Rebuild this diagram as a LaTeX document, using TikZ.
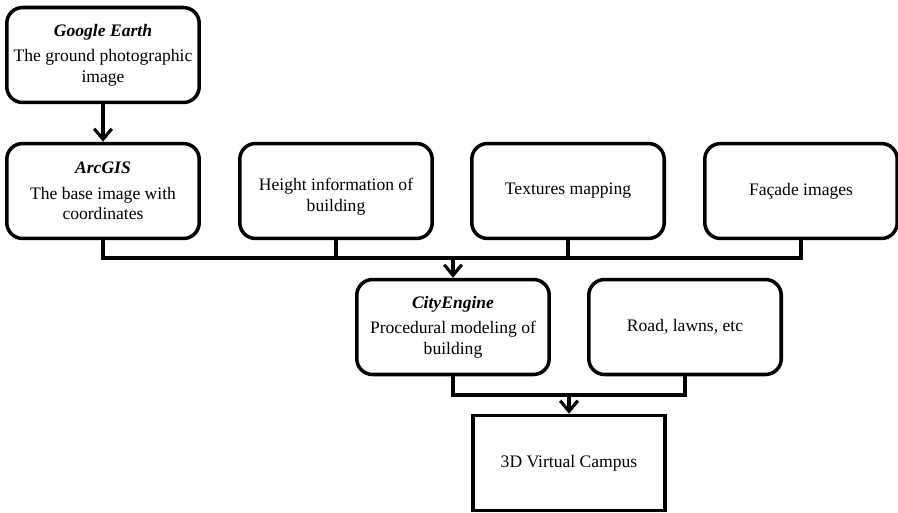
\documentclass[tikz,border=0pt]{standalone}
\usepackage{fontspec}
\setmainfont{Liberation Serif}
\usepackage{tikz}
\usetikzlibrary{arrows.meta}

\tikzset{
  stepbox/.style={draw, line width=2pt, rounded corners=9pt, align=center,
    minimum width=3.85cm, minimum height=1.9cm, font=\fontsize{10}{11.5}\selectfont},
  endbox/.style={stepbox, rounded corners=0pt},
  link/.style={line width=1.8pt},
  arr/.style={link, -{Straight Barb[length=6pt,width=10pt,line width=1.8pt]}}
}
\newcommand{\tool}[1]{\textbf{\textit{#1}}\\[3pt]}

\begin{document}
\begin{tikzpicture}[x=0.02cm, y=-0.02cm]
                    \useasboundingbox (0,0) rectangle (898,513);
                    % Sources
                    \node [stepbox] (earth) at (103,55) {\tool{Google Earth}The ground photographic\\image};
                    \node [stepbox] (arcgis) at (103,191) {\tool{ArcGIS}The base image with\\coordinates};
                    \node [stepbox] (height) at (336,191) {\mbox{}\\[2pt]Height information of\\building};
                    \node [stepbox] (texture) at (568,191) {Textures mapping};
                    \node [stepbox] (facade) at (801,191) {Façade images};
                    % Modeling
                    \node [stepbox] (city) at (453,327) {\tool{CityEngine}Procedural modeling of\\building};
                    \node [stepbox] (road) at (685,327) {Road, lawns, etc};
                    \node [endbox] (campus) at (569,463) {3D Virtual Campus};
                    % Bus lines
                    \coordinate (bus) at (0,258);
                    \coordinate (low) at (0,395);
                    \draw [arr] (earth) -- (arcgis);
                    \draw [link] (arcgis.south) -- (arcgis.south |- bus) -| (facade.south);
                    \draw [link] (height.south) -- (height.south |- bus);
                    \draw [link] (texture.south) -- (texture.south |- bus);
                    \draw [arr] (city.north |- bus) -- (city.north);
                    \draw [link] (city.south) -- (city.south |- low) -| (road.south);
                    \draw [arr] (campus.north |- low) -- (campus.north);
                \end{tikzpicture}
\end{document}
